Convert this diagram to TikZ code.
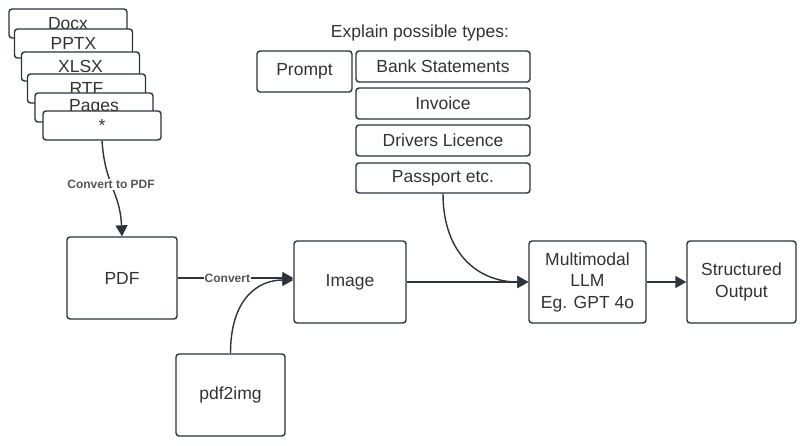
\documentclass[tikz,border=0pt]{standalone}
\usepackage{fontspec}
\setmainfont{Liberation Sans}
\usetikzlibrary{arrows.meta,calc}
\definecolor{ln}{HTML}{2E333D}
\definecolor{tx}{HTML}{333333}
\definecolor{lb}{HTML}{555555}
\begin{document}
\begin{tikzpicture}[x=1pt,y=-1pt,
  box/.style={draw=ln, line width=1.4pt, rounded corners=3pt, fill=white, text=tx,
    font=\fontsize{17.5}{21.5}\selectfont, inner sep=0pt, align=center},
  sbox/.style={box, minimum width=118pt, minimum height=29pt},
  tbox/.style={box, minimum width=174pt, minimum height=31pt},
  bbox/.style={box, minimum height=82pt},
  conn/.style={draw=ln, line width=1.4pt, -{Triangle[length=11pt,width=12pt]}},
  lab/.style={font=\bfseries\fontsize{12}{14}\selectfont, text=lb, fill=white, inner sep=1pt}]
\useasboundingbox[fill=white] (0,0) rectangle (809,446);

% stacked file types
\node[sbox] (docx) at (68,23.5) {Docx};
\node[sbox] (pptx) at (73.5,43.5) {PPTX};
\node[sbox] (xlsx) at (80.5,66.5) {XLSX};
\node[sbox] (rtf) at (86.5,88.5) {RTF};
\node[sbox] (pages) at (94,107.5) {Pages};
\node[sbox] (star) at (102,125.5) {*};

% main flow
\node[bbox, minimum width=110pt] (pdf) at (122,278) {PDF};
\node[bbox, minimum width=112pt] (img) at (350,282) {Image};
\node[bbox, minimum width=109pt] (p2i) at (230.5,395) {pdf2img};
\node[bbox, minimum width=117pt] (llm) at (587.5,282) {Multimodal\\LLM\\Eg. GPT 4o};
\node[bbox, minimum width=109pt] (out) at (741.5,282) {Structured\\Output};

% prompt
\node[text=tx, font=\fontsize{17.5}{21.5}\selectfont] (expl) at (420,33) {Explain possible types:};
\node[box, minimum width=95pt, minimum height=41pt] (prompt) at (304.5,71.5) {Prompt};
\node[tbox] (bank) at (443,66.5) {Bank Statements};
\node[tbox] (inv) at (443,103.5) {Invoice};
\node[tbox] (drv) at (443,140.5) {Drivers Licence};
\node[tbox, minimum height=30pt] (pass) at (443,178) {Passport etc.};

% connectors
\draw[conn] (star.south) .. controls ($(star.south)+(3,45)$) and ($(pdf.north)+(-2,-45)$) .. (pdf.north)
  node[lab, pos=0.45] (lconv) {Convert to PDF};
\draw[conn] (pdf.east) -- (pdf.east -| img.west) node[lab, pos=0.43] (lcv) {Convert};
\draw[conn] (p2i.north) .. controls ($(p2i.north)+(0,-55)$) and ($(img.west)+(-35,-2)$) .. ($(img.west)+(0,-2)$);
\draw[conn] (img.east) -- (llm.west);
\draw[conn] (pass.south) .. controls ($(pass.south)+(0,60)$) and ($(llm.west)+(-50,0)$) .. (llm.west);
\draw[conn] (llm.east) -- (out.west);
\end{tikzpicture}
\end{document}
